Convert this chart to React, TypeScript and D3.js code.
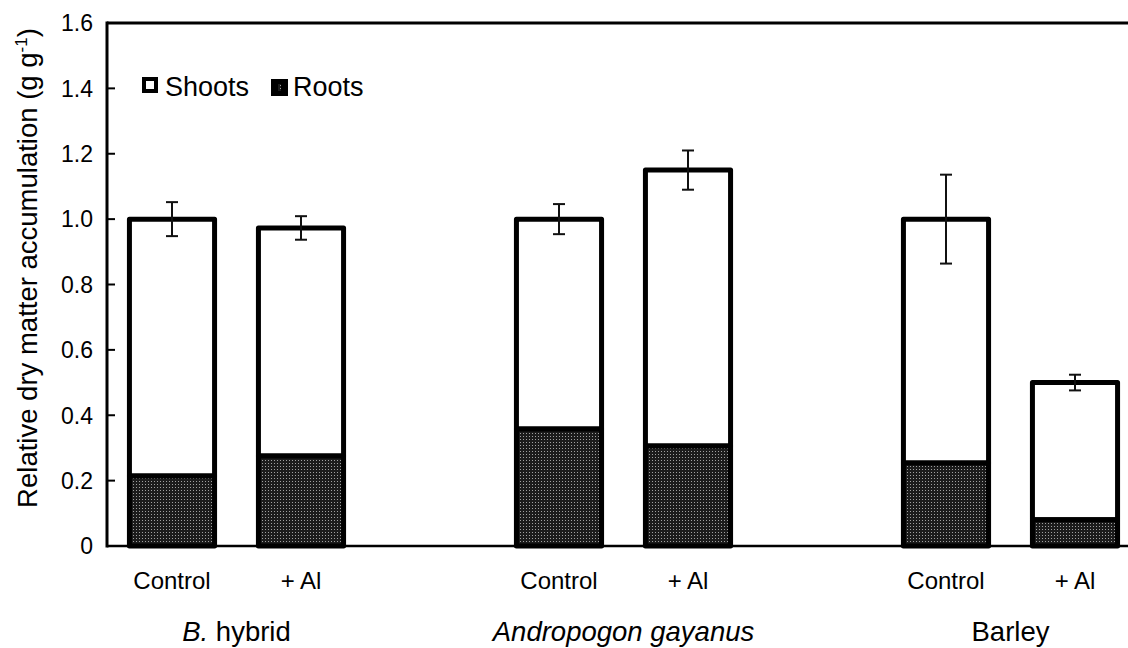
import React from "react";
import * as d3 from "d3";

const slots = ["B-C", "B-A", "gap1", "A-C", "A-A", "gap2", "Ba-C", "Ba-A"];
const barSlots = ["B-C", "B-A", "A-C", "A-A", "Ba-C", "Ba-A"];
const treatments = ["Control", "+ Al", "Control", "+ Al", "Control", "+ Al"];
const totals = [1.0, 0.973, 1.0, 1.15, 1.0, 0.5];
const roots = [0.214, 0.275, 0.358, 0.306, 0.254, 0.08];
const errors = [0.052, 0.036, 0.046, 0.06, 0.136, 0.024];
const yTicks = [0, 0.2, 0.4, 0.6, 0.8, 1.0, 1.2, 1.4, 1.6];
const groups = [
  { parts: [{ t: "B.", it: true }, { t: " hybrid", it: false }], slots: ["B-C", "B-A"] },
  { parts: [{ t: "Andropogon gayanus", it: true }], slots: ["A-C", "A-A"] },
  { parts: [{ t: "Barley", it: false }], slots: ["Ba-C", "Ba-A"] },
];

const W = 1128;
const H = 648;
const FONT = "'Liberation Sans', Arial, Helvetica, sans-serif";

export default function App() {
  const x = d3.scaleBand<string>().domain(slots).range([107.5, 1139.5]).padding(0);
  const y = d3.scaleLinear().domain([0, 1.6]).range([546, 23]);
  const bw = x.bandwidth() * 0.66;
  const cx = (s: string) => (x(s) as number) + x.bandwidth() / 2;

  return (
    <svg width={W} height={H} style={{ position: "absolute", left: 0, top: 0, background: "#fff" }}>
      <defs>
        <pattern id="dots" width="3" height="3" patternUnits="userSpaceOnUse">
          <rect width="3" height="3" fill="#1c1c1c" />
          <rect x="1" y="1" width="1" height="1" fill="#a0a0a0" />
        </pattern>
      </defs>
      <rect width={W} height={H} fill="#fff" />

      {/* bars */}
      {barSlots.map((s, i) => {
        const x0 = cx(s) - bw / 2;
        return (
          <g key={s}>
            <rect x={x0} y={y(totals[i])} width={bw} height={y(roots[i]) - y(totals[i])}
              fill="#fff" stroke="#000" strokeWidth={5} strokeLinejoin="round" />
            <rect x={x0} y={y(roots[i])} width={bw} height={y(0) - y(roots[i])}
              fill="url(#dots)" stroke="#000" strokeWidth={5} strokeLinejoin="round" />
          </g>
        );
      })}

      {/* error bars */}
      {barSlots.map((s, i) => {
        const c = cx(s);
        const top = y(totals[i] + errors[i]);
        const bot = y(totals[i] - errors[i]);
        return (
          <g key={"e" + s} stroke="#111" strokeWidth={2}>
            <line x1={c} x2={c} y1={top} y2={bot} />
            <line x1={c - 6} x2={c + 6} y1={top} y2={top} />
            <line x1={c - 6} x2={c + 6} y1={bot} y2={bot} />
          </g>
        );
      })}

      {/* axes */}
      <line x1={107} x2={107} y1={y(1.6) - 1.5} y2={y(0) + 1.5} stroke="#000" strokeWidth={3} />
      <line x1={107} x2={W} y1={y(1.6)} y2={y(1.6)} stroke="#000" strokeWidth={3} />
      <line x1={107} x2={W} y1={y(0)} y2={y(0)} stroke="#000" strokeWidth={2.5} />
      {yTicks.map((t) => (
        <g key={"t" + t}>
          <line x1={107} x2={115} y1={y(t)} y2={y(t)} stroke="#000" strokeWidth={2} />
          <text x={93} y={y(t)} dy="0.36em" textAnchor="end" fontFamily={FONT} fontSize={23} fill="#000">
            {t === 0 ? "0" : d3.format(".1f")(t)}
          </text>
        </g>
      ))}

      {/* y title */}
      <text transform={`translate(37,268) rotate(-90)`} textAnchor="middle" fontFamily={FONT} fontSize={27.5} fill="#000">
        Relative dry matter accumulation (g g
        <tspan dy="-10" fontSize={17}>-1</tspan>
        <tspan dy="10">)</tspan>
      </text>

      {/* category labels */}
      {barSlots.map((s, i) => (
        <text key={"c" + s} x={cx(s)} y={589} textAnchor="middle" fontFamily={FONT} fontSize={24} fill="#000">
          {treatments[i]}
        </text>
      ))}

      {/* group labels */}
      {groups.map((g, i) => {
        const c = (cx(g.slots[0]) + cx(g.slots[1])) / 2;
        return (
          <text key={"g" + i} x={c} y={641} textAnchor="middle" fontFamily={FONT} fontSize={27.5} fill="#000">
            {g.parts.map((p, j) => (
              <tspan key={j} fontStyle={p.it ? "italic" : "normal"}>{p.t}</tspan>
            ))}
          </text>
        );
      })}

      {/* legend */}
      <rect x={144} y={79} width={12} height={12} fill="#fff" stroke="#000" strokeWidth={4} />
      <text x={165} y={96} fontFamily={FONT} fontSize={27} fill="#000">Shoots</text>
      <rect x={271} y={79} width={17} height={17} fill="#000" />
      <rect x={278} y={84} width={3} height={7} fill="url(#dots)" />
      <text x={293} y={96} fontFamily={FONT} fontSize={27} fill="#000">Roots</text>
    </svg>
  );
}
